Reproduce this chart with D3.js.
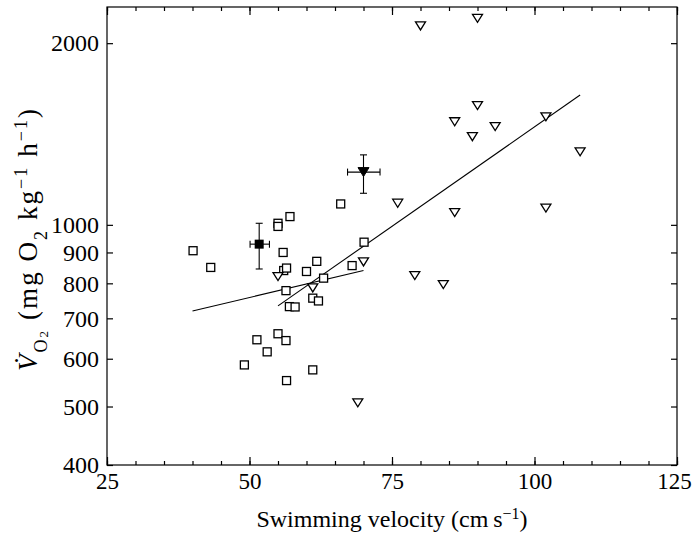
<!DOCTYPE html>
<html>
<head>
<meta charset="utf-8">
<script src="https://cdn.jsdelivr.net/npm/d3@7"></script>
<style>
  html, body { margin: 0; padding: 0; background: #fff; }
  svg { display: block; }
  text { font-family: "Liberation Serif", "Times New Roman", serif; fill: #000; }
</style>
</head>
<body>
<svg id="chart" width="693" height="535"></svg>
<script>
// ---- data ----
const squareVelocity = [40.1, 43.2, 55.0, 55.0, 57.1, 55.9, 56.0, 56.5, 56.4, 57.0, 58.0, 60.0, 61.8, 61.1, 62.1, 63.0, 66.0, 70.1, 68.0, 51.3, 55.0, 56.4, 53.1, 49.1, 61.1, 56.5];
const squareVO2      = [906, 850, 1006, 994, 1032, 900, 840, 848, 778, 732, 731, 837, 870, 756, 748, 816, 1083, 936, 856, 645, 660, 643, 616, 586, 575, 552];
const triangleVelocity = [55.0, 61.1, 70.0, 69.0, 76.0, 79.0, 84.0, 86.0, 80.0, 90.0, 90.0, 93.1, 89.1, 86.0, 102.0, 108.0, 102.0];
const triangleVO2      = [821, 786, 868, 507, 1086, 824, 796, 1048, 2136, 2199, 1576, 1455, 1400, 1482, 1510, 1321, 1066];
// group means with error bars: [velocity, vo2, vLow, vHigh, vo2Low, vo2High]
const squareMean   = [51.7, 929, 50.1, 53.5, 845, 1006];
const triangleMean = [70.0, 1223, 67.2, 72.9, 1128, 1306];
// regression lines: [[x1, y1], [x2, y2]]
const squareFit   = [[40.0, 720], [70.0, 840]];
const triangleFit = [[55.0, 734], [108.0, 1641]];
const xTicks = [25, 50, 75, 100, 125];
const xMinorTicks = d3.range(25, 126, 5);
const yTicks = [400, 500, 600, 700, 800, 900, 1000, 2000];

// ---- layout ----
const svg = d3.select("#chart");
const L = 107, R = 677, T = 7, B = 465;
const x = d3.scaleLinear().domain([25, 125]).range([L, R]);
const y = d3.scaleLog().domain([400, 2296]).range([B, T]);

// frame
svg.append("rect").attr("x", L).attr("y", T).attr("width", R - L).attr("height", B - T)
  .attr("fill", "none").attr("stroke", "#000").attr("stroke-width", 1.2);

// axes (ticks inward)
const fmt = d => String(d);
const xBottom = d3.axisBottom(x).tickValues(xTicks).tickSize(-8).tickPadding(8).tickFormat(fmt);
const xBottomMinor = d3.axisBottom(x).tickValues(xMinorTicks).tickSize(-4).tickFormat("");
const xTop = d3.axisTop(x).tickValues(xTicks).tickSize(-8).tickFormat("");
const xTopMinor = d3.axisTop(x).tickValues(xMinorTicks).tickSize(-4).tickFormat("");
const yLeft = d3.axisLeft(y).tickValues(yTicks).tickSize(-6).tickPadding(8).tickFormat(fmt);
const yRight = d3.axisRight(y).tickValues(yTicks).tickSize(-6).tickFormat("");

function styleAxis(g) {
  g.select(".domain").remove();
  g.attr("font-family", null);
  g.selectAll(".tick line").attr("stroke", "#000").attr("stroke-width", 1.2);
  g.selectAll(".tick text").attr("font-size", 24).attr("fill", "#000");
}
svg.append("g").attr("transform", `translate(0,${B})`).call(xBottomMinor).call(styleAxis);
const gxb = svg.append("g").attr("transform", `translate(0,${B})`).call(xBottom).call(styleAxis);
gxb.selectAll(".tick text").attr("font-size", 23).filter(d => d === 125).attr("dx", -3);
svg.append("g").attr("transform", `translate(0,${T})`).call(xTopMinor).call(styleAxis);
svg.append("g").attr("transform", `translate(0,${T})`).call(xTop).call(styleAxis);
svg.append("g").attr("transform", `translate(${L},0)`).call(yLeft).call(styleAxis);
svg.append("g").attr("transform", `translate(${R},0)`).call(yRight).call(styleAxis);

// regression lines
const line = d3.line().x(d => x(d[0])).y(d => y(d[1]));
[squareFit, triangleFit].forEach(f => {
  svg.append("path").attr("d", line(f)).attr("fill", "none").attr("stroke", "#000").attr("stroke-width", 1.1);
});

// open squares
const sq = 8;
svg.append("g").selectAll("rect").data(squareVelocity.map((v, i) => [v, squareVO2[i]])).join("rect")
  .attr("x", d => x(d[0]) - sq / 2).attr("y", d => y(d[1]) - sq / 2)
  .attr("width", sq).attr("height", sq)
  .attr("fill", "#fff").attr("stroke", "#000").attr("stroke-width", 1.3);

// open down triangles
const triPath = (cx, cy, w, h) => `M${cx - w / 2},${cy - h / 2}L${cx + w / 2},${cy - h / 2}L${cx},${cy + h / 2}Z`;
svg.append("g").selectAll("path").data(triangleVelocity.map((v, i) => [v, triangleVO2[i]])).join("path")
  .attr("d", d => triPath(x(d[0]), y(d[1]), 10, 8))
  .attr("fill", "#fff").attr("stroke", "#000").attr("stroke-width", 1.3);

// error bars + means
function errorBars(m) {
  const g = svg.append("g").attr("stroke", "#000").attr("stroke-width", 1.1);
  const cx = x(m[0]), cy = y(m[1]);
  const cap = 3.5;
  g.append("line").attr("x1", x(m[2])).attr("x2", x(m[3])).attr("y1", cy).attr("y2", cy);
  g.append("line").attr("x1", x(m[2])).attr("x2", x(m[2])).attr("y1", cy - cap).attr("y2", cy + cap);
  g.append("line").attr("x1", x(m[3])).attr("x2", x(m[3])).attr("y1", cy - cap).attr("y2", cy + cap);
  g.append("line").attr("x1", cx).attr("x2", cx).attr("y1", y(m[4])).attr("y2", y(m[5]));
  g.append("line").attr("x1", cx - cap).attr("x2", cx + cap).attr("y1", y(m[4])).attr("y2", y(m[4]));
  g.append("line").attr("x1", cx - cap).attr("x2", cx + cap).attr("y1", y(m[5])).attr("y2", y(m[5]));
}
errorBars(squareMean);
errorBars(triangleMean);
svg.append("rect").attr("x", x(squareMean[0]) - 4.5).attr("y", y(squareMean[1]) - 4.5)
  .attr("width", 9).attr("height", 9).attr("fill", "#000");
svg.append("path").attr("d", triPath(x(triangleMean[0]), y(triangleMean[1]), 11, 9)).attr("fill", "#000").attr("stroke", "#000");

// axis titles
const xt = svg.append("text").attr("x", (L + R) / 2).attr("y", 527).attr("text-anchor", "middle").attr("font-size", 24);
xt.append("tspan").text("Swimming velocity (cm\u2009s");
xt.append("tspan").attr("baseline-shift", "super").attr("font-size", 16).text("\u22121");
xt.append("tspan").text(")");

const yt = svg.append("text").attr("transform", "translate(37,240) rotate(-90)").attr("text-anchor", "middle")
  .attr("font-size", 27).attr("textLength", 262).attr("lengthAdjust", "spacing");
yt.append("tspan").attr("font-style", "italic").text("V\u0307");
yt.append("tspan").attr("baseline-shift", "sub").attr("font-size", 18).text("O");
yt.append("tspan").attr("baseline-shift", "-11").attr("font-size", 13).text("2");
yt.append("tspan").text(" (mg O");
yt.append("tspan").attr("baseline-shift", "sub").attr("font-size", 18).text("2");
yt.append("tspan").text(" kg");
yt.append("tspan").attr("baseline-shift", "super").attr("font-size", 18).text("\u22121");
yt.append("tspan").text(" h");
yt.append("tspan").attr("baseline-shift", "super").attr("font-size", 18).text("\u22121");
yt.append("tspan").text(")");
</script>
</body>
</html>
